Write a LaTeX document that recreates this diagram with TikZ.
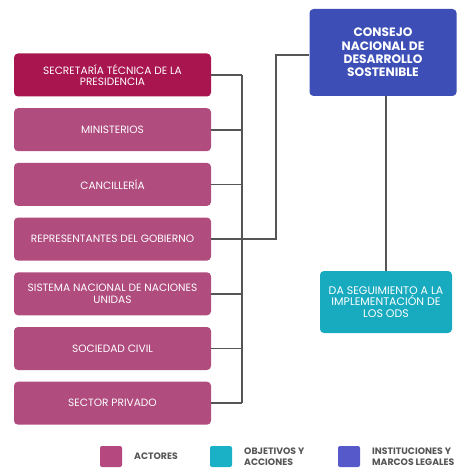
\documentclass[tikz,border=0pt]{standalone}
\usepackage{fontspec}
\setmainfont{Poppins}
\definecolor{crim}{HTML}{A8154F}
\definecolor{mag}{HTML}{B04C7E}
\definecolor{blu}{HTML}{3D4FB7}
\definecolor{cya}{HTML}{18AABF}
\definecolor{lmag}{HTML}{B5487F}
\definecolor{lcya}{HTML}{1AB0C6}
\definecolor{lblu}{HTML}{5659C9}
\definecolor{ln}{HTML}{555555}
\tikzset{
  actor/.style={fill=mag, rounded corners=4pt, minimum width=197pt, minimum height=43pt, text=white, align=center, font=\fontsize{10.6}{11.5}\selectfont, inner sep=0pt},
  conn/.style={draw=ln, line width=1.6pt},
  legsq/.style={rounded corners=2pt, minimum width=22pt, minimum height=21pt, inner sep=0pt},
  legtx/.style={anchor=west, align=left, text=ln, font=\bfseries\fontsize{9.3}{11}\selectfont, inner sep=0pt}
}
\begin{document}
\begin{tikzpicture}[x=1pt,y=-1pt]
\useasboundingbox (0,0) rectangle (457,468);
\clip (0,0) rectangle (457,468);
\node[actor, fill=crim] (a1) at (112.5,75) {SECRETARÍA TÉCNICA DE LA\\PRESIDENCIA};
\node[actor] (a2) at (112.5,129.7) {MINISTERIOS};
\node[actor] (a3) at (112.5,184.4) {CANCILLERÍA};
\node[actor] (a4) at (112.5,239.1) {REPRESENTANTES DEL GOBIERNO};
\node[actor] (a5) at (112.5,293.8) {SISTEMA NACIONAL DE NACIONES\\UNIDAS};
\node[actor] (a6) at (112.5,348.5) {SOCIEDAD CIVIL};
\node[actor] (a7) at (112.5,403.2) {SECTOR PRIVADO};
\node[fill=blu, rounded corners=4pt, minimum width=147pt, minimum height=87pt, text=white, align=center, font=\bfseries\fontsize{12.2}{13.3}\selectfont, inner sep=0pt] (cn) at (383,52.5) {CONSEJO\\NACIONAL DE\\DESARROLLO\\SOSTENIBLE};
\node[fill=cya, rounded corners=4pt, minimum width=132pt, minimum height=62pt, text=white, align=center, font=\fontsize{11}{11.8}\selectfont, inner sep=0pt] (ods) at (386,302) {DA SEGUIMIENTO A LA\\IMPLEMENTACIÓN DE\\LOS ODS};
\coordinate (bt) at (242,75);
\coordinate (bb) at (242,403.2);
\draw[conn] (bt) -- (bb);
\foreach \n in {a1,a2,a3,a4,a5,a6,a7}{\draw[conn] (\n.east) -- (\n.east -| bt);}
\coordinate (k1) at (276,239.1);
\coordinate (k2) at (276,55);
\draw[conn] (a4.east -| bt) -- (k1) -- (k2) -- (k2 -| cn.west);
\draw[conn] (cn.south -| 386,0) -- (ods.north);
\node[legsq, fill=lmag] (l1) at (111,456.5) {};
\node[legtx] (t1) at (134,456.5) {ACTORES};
\node[legsq, fill=lcya] (l2) at (221,456.5) {};
\node[legtx] (t2) at (244,456.5) {OBJETIVOS Y\\ACCIONES};
\node[legsq, fill=lblu] (l3) at (349,456.5) {};
\node[legtx] (t3) at (372,456.5) {INSTITUCIONES Y\\MARCOS LEGALES};
\end{tikzpicture}
\end{document}
